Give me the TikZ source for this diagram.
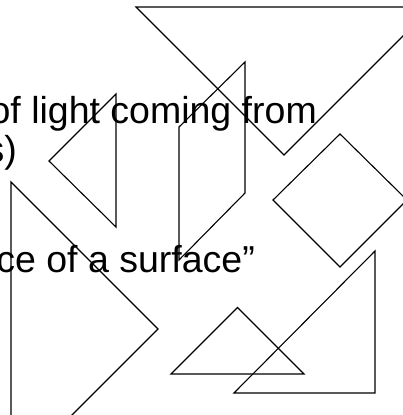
\documentclass[tikz,border=0pt]{standalone}
\usepackage{fontspec}
\setmainfont{Liberation Sans}
\usetikzlibrary{positioning}

\begin{document}
\begin{tikzpicture}[x=1pt,y=-1pt,piece/.style={draw,line width=1.1pt,line join=miter},every node/.style={font=\fontsize{37.5}{37.5}\selectfont,inner sep=0pt}]
\useasboundingbox (0,0) rectangle (402,415);
\node[anchor=base east] (l1) at (317,123) {of light coming from};
\node[anchor=base east] (l2) at (17,162) {s)};
\node[anchor=base east] (l3) at (255,272) {ce of a surface”};
\draw[piece] (136,7) -- (432,7) -- (284,155) -- cycle;
\draw[piece] (11,182) -- (158,329) -- (11,476) -- cycle;
\draw[piece] (116,94) -- (49,161) -- (116,227) -- cycle;
\draw[piece] (179,127) -- (245,62) -- (245,193) -- (179,260) -- cycle;
\draw[piece] (340,134) -- (407,200) -- (340,267) -- (273,200) -- cycle;
\draw[piece] (375,251) -- (375,393) -- (234,393) -- cycle;
\draw[piece] (171,374) -- (304,374) -- (237.5,307.5) -- cycle;
\end{tikzpicture}
\end{document}
